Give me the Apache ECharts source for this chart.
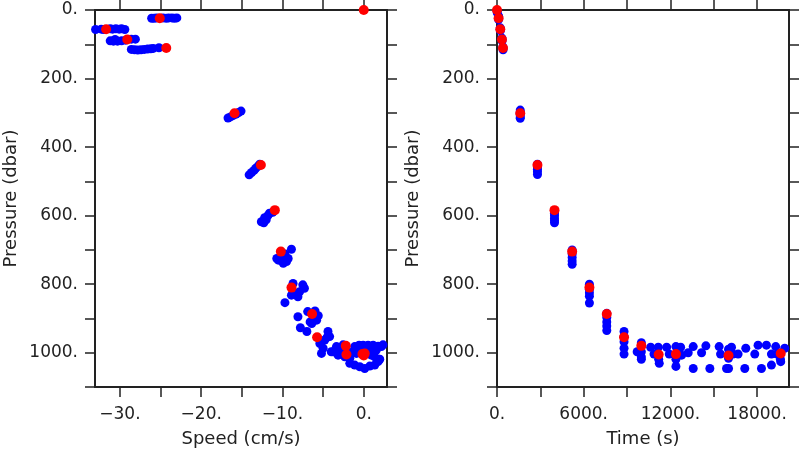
<!DOCTYPE html>
<html>
<head>
<meta charset="utf-8">
<script src="https://cdn.jsdelivr.net/npm/echarts@6/dist/echarts.min.js"></script>
<style>
html,body{margin:0;padding:0;background:#fff;}
#chart{width:800px;height:450px;}
</style>
</head>
<body>
<div id="chart"></div>
<script>
// ---------- data ----------
// Left panel: speed (cm/s) vs pressure (dbar)
const redSpeed    = [0, -25.1, -31.7, -29.1, -24.3, -15.9, -12.66, -10.94, -10.2, -8.89, -6.36, -5.74, -2.21, -2.13, -0.16, 0.0, 0.12];
const redPressure = [0, 24, 56, 86, 111, 301, 452, 584, 705, 810, 887, 955, 980, 1005, 1004, 1008, 1002];
// Right panel: time (s) of the same red points
const redTime     = [0, 110, 228, 345, 414, 1609, 2800, 3979, 5201, 6396, 7598, 8793, 9990, 11189, 12384, 16024, 19637];

const blueSpeedPressure = [
  [-26.1,24],[-25.8,24],[-25.5,23],[-24.7,23],[-24.3,24],[-24.0,23],[-23.6,23],[-23.3,24],[-23.0,23],
  [-33.0,57],[-32.3,56],[-32.0,57],[-31.2,55],[-30.9,56],[-30.5,55],[-30.1,56],[-29.8,55],[-29.4,57],
  [-31.2,90],[-30.8,91],[-30.3,91],[-29.8,90],[-29.3,88],[-28.6,85],[-28.1,85],[-30.6,86],
  [-28.6,115],[-28.2,116],[-27.8,117],[-27.4,116],[-27.0,115],[-26.6,114],[-26.2,113],[-25.9,112],[-25.2,110],
  [-16.7,315],[-16.4,312],[-16.1,308],[-15.7,304],[-15.4,299],[-15.1,295],
  [-14.1,481],[-13.8,474],[-13.5,468],[-13.3,462],[-13.0,456],[-12.8,450],
  [-12.6,618],[-12.3,621],[-12.2,606],[-11.8,600],[-11.6,593],[-11.2,590],[-12.0,612],
  [-8.9,698],[-10.5,730],[-9.9,739],[-9.3,725],[-10.1,720],[-9.5,734],[-10.7,725],[-9.7,712],
  [-8.7,798],[-7.5,802],[-7.3,812],[-8.5,827],[-8.1,837],[-8.9,832],[-7.9,822],[-9.7,854],
  [-8.1,895],[-7.8,927],[-7.0,938],[-5.6,892],[-6.6,910],[-6.2,900],[-6.9,880],[-6.0,878],[-6.4,915],[-5.8,905],
  [-4.4,938],[-4.2,953],[-4.8,963],[-5.4,973],[-5.0,987],[-5.2,1002],[-4.5,955],
  [-4.0,997],[-3.77,997],[-3.36,982],[-3.16,1007],[-2.74,1002],[-2.34,1012],[-1.72,1016],[-1.31,997],[-1.11,982],
  [-0.57,978],[-0.08,978],[0.53,978],[1.15,978],[1.76,981],[2.17,982],[-0.90,1002],[0.33,997],[0.94,1007],
  [1.35,1012],[-1.72,1031],[-1.11,1036],[-0.49,1041],[0.12,1046],[0.74,1039],[1.76,1026],[1.97,1019],
  [-0.29,992],[-0.70,987],[-1.52,1002],[-2.13,992],[-2.95,992],[-2.54,977],[0.74,987],[1.55,992],[2.37,977],
  [1.35,1036],[1.89,1019]
];

const blueTimePressure = [
  [0,2],[20,8],[110,18],[110,22],[110,28],[225,52],[230,56],[235,60],[340,82],[350,90],[410,108],[420,116],
  [1609,292],[1609,298],[1609,305],[1609,312],[1609,316],
  [2800,450],[2800,458],[2800,465],[2800,472],[2800,480],
  [3979,585],[3979,593],[3979,600],[3979,608],[3979,615],[3979,621],
  [5201,700],[5201,712],[5201,722],[5201,732],[5201,742],
  [6396,800],[6396,815],[6396,825],[6396,835],[6396,855],
  [7598,885],[7598,897],[7598,910],[7598,922],[7598,935],
  [8793,938],[8793,953],[8793,968],[8793,987],[8793,1004],
  [9700,997],[9990,971],[9990,997],[9990,1012],[9990,1019],
  [10637,984],[10865,1004],[11162,984],[11231,1031],[11189,1019],[11742,984],[11921,1004],
  [12384,982],[12384,1019],[12384,1040],[12709,984],[12778,1007],[13234,1000],[13580,982],[13580,1046],
  [14159,1000],[14457,980],[14733,1046],[15375,982],[15472,1004],[15886,1046],[16024,990],[16024,1016],
  [16024,1046],[16231,984],[16341,1004],[16687,1004],[17150,1046],[17219,987],[17841,1004],[18069,978],
  [18304,1046],[18649,978],[18994,1036],[18994,1004],[19291,982],[19381,1004],[19616,1019],[19637,1026],[19913,987]
];

const speedTicks     = [-30, -25, -20, -15, -10, -5, 0];
const speedLabels    = [-30, -20, -10, 0];
const timeTicks      = [0, 3000, 6000, 9000, 12000, 15000, 18000];
const timeLabels     = [0, 6000, 12000, 18000];
const pressureTicks  = [0, 100, 200, 300, 400, 500, 600, 700, 800, 900, 1000, 1100];
const pressureLabels = [0, 200, 400, 600, 800, 1000];

// ---------- chart ----------
const FONT = 'DejaVu Sans';
const INK = '#222';
const fmt = v => (v < 0 ? '\u2212' + Math.abs(v) : String(v)) + '.';

function xAx(gridIndex, pos, min, max, ticks, labels, name) {
  const bottom = pos === 'bottom';
  return {
    type: 'value', gridIndex, position: pos, min, max,
    axisLine: { show: true, onZero: false, lineStyle: { color: INK, width: 2 } },
    axisTick: { show: true, inside: false, length: 10, customValues: ticks, lineStyle: { color: INK, width: 1.5 } },
    axisLabel: bottom ? { show: true, customValues: labels, formatter: fmt, color: INK, fontFamily: FONT, fontSize: 17, margin: 19 } : { show: false },
    splitLine: { show: false },
    name: bottom ? name : '',
    nameLocation: 'middle', nameGap: 43,
    nameTextStyle: { color: INK, fontFamily: FONT, fontSize: 18 }
  };
}
function yAx(gridIndex, pos) {
  const left = pos === 'left';
  return {
    type: 'value', gridIndex, position: pos, inverse: true, min: 0, max: 1100,
    axisLine: { show: true, onZero: false, lineStyle: { color: INK, width: 2 } },
    axisTick: { show: true, inside: false, length: 10, customValues: pressureTicks, lineStyle: { color: INK, width: 1.5 } },
    axisLabel: left ? { show: true, customValues: pressureLabels, formatter: fmt, color: INK, fontFamily: FONT, fontSize: 17, margin: 17 } : { show: false },
    splitLine: { show: false },
    name: left ? 'Pressure (dbar)' : '',
    nameLocation: 'middle', nameGap: 75, nameRotate: 90,
    nameTextStyle: { color: INK, fontFamily: FONT, fontSize: 18 }
  };
}

const chart = echarts.init(document.getElementById('chart'), null, { renderer: 'canvas' });
const zipRed = (xs) => xs.map((x, i) => [x, redPressure[i]]);
const BLUE = { color: '#0000ff', opacity: 1 };
const RED = { color: '#ff0000', opacity: 1 };

chart.setOption({
  animation: false,
  backgroundColor: '#fff',
  textStyle: { fontFamily: FONT },
  grid: [
    { left: 95, top: 10, width: 292, height: 377, outerBoundsMode: 'none', containLabel: false },
    { left: 497, top: 10, width: 292, height: 377, outerBoundsMode: 'none', containLabel: false }
  ],
  xAxis: [
    xAx(0, 'bottom', -33.07, 2.86, speedTicks, speedLabels, 'Speed (cm/s)'),
    xAx(0, 'top', -33.07, 2.86, speedTicks, speedLabels, ''),
    xAx(1, 'bottom', 0, 20210, timeTicks, timeLabels, 'Time (s)'),
    xAx(1, 'top', 0, 20210, timeTicks, timeLabels, '')
  ],
  yAxis: [ yAx(0, 'left'), yAx(0, 'right'), yAx(1, 'left'), yAx(1, 'right') ],
  series: [
    { type: 'scatter', xAxisIndex: 0, yAxisIndex: 0, data: blueSpeedPressure, symbolSize: 9,
      itemStyle: BLUE, emphasis: { disabled: true }, z: 2 },
    { type: 'scatter', xAxisIndex: 0, yAxisIndex: 0, data: zipRed(redSpeed), symbolSize: 10,
      itemStyle: RED, emphasis: { disabled: true }, z: 3 },
    { type: 'scatter', xAxisIndex: 2, yAxisIndex: 2, data: blueTimePressure, symbolSize: 9,
      itemStyle: BLUE, emphasis: { disabled: true }, z: 2 },
    { type: 'scatter', xAxisIndex: 2, yAxisIndex: 2, data: zipRed(redTime), symbolSize: 10,
      itemStyle: RED, emphasis: { disabled: true }, z: 3 }
  ]
});
</script>
</body>
</html>
